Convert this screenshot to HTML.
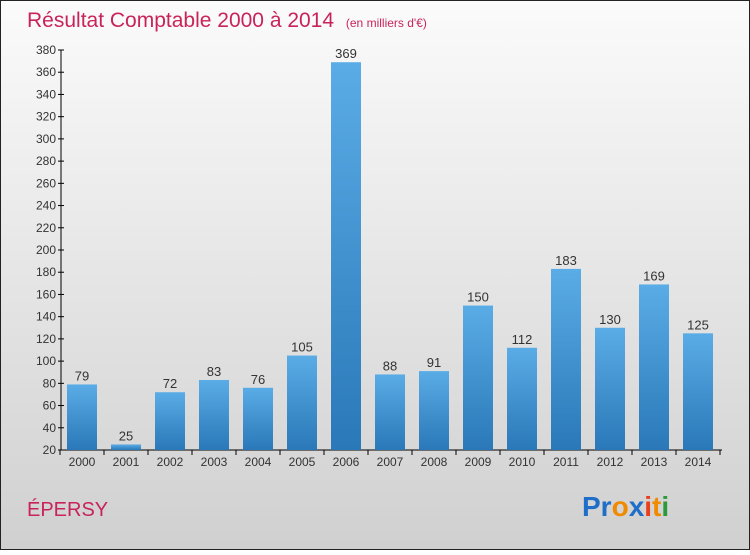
<!DOCTYPE html>
<html><head><meta charset="utf-8"><style>
body{margin:0;width:750px;height:550px;overflow:hidden;font-family:"Liberation Sans",sans-serif}
</style></head><body>
<svg id="c" width="750" height="550" xmlns="http://www.w3.org/2000/svg">
<defs>
<linearGradient id="bg" x1="0" y1="0" x2="0" y2="1"><stop offset="0" stop-color="#fbfbfb"/><stop offset="1" stop-color="#d0d0d0"/></linearGradient>
<linearGradient id="bar" x1="0" y1="0" x2="0" y2="1"><stop offset="0" stop-color="#5aace6"/><stop offset="1" stop-color="#2a78b8"/></linearGradient>
</defs>
<rect x="0.5" y="0.5" width="749" height="549" fill="url(#bg)" stroke="#222"/>
<text x="27" y="27" font-size="21" fill="#c8245a">Résultat Comptable 2000 à 2014 <tspan font-size="12" dx="6">(en milliers d'€)</tspan></text>
<text x="27" y="516" font-size="20" fill="#c8245a">ÉPERSY</text>
<g font-size="28" font-weight="bold">
<text x="582" y="516"><tspan fill="#1f6fc8">Pr</tspan><tspan fill="#f08a00">o</tspan><tspan fill="#1f6fc8">x</tspan><tspan fill="#e8401a">i</tspan><tspan fill="#f08a00">t</tspan><tspan fill="#2a9a3a">i</tspan></text>
</g>
<g id="axes"></g><g id="bars"></g>
</svg>
<script>
const years=["2000","2001","2002","2003","2004","2005","2006","2007","2008","2009","2010","2011","2012","2013","2014"];
const values=[79,25,72,83,76,105,369,88,91,150,112,183,130,169,125];
const ticks=[20,40,60,80,100,120,140,160,180,200,220,240,260,280,300,320,340,360,380];
const NS="http://www.w3.org/2000/svg";
const y=v=>450-(v-20)*400/360;
const x=i=>82+i*44;
function mk(t,a,p){const e=document.createElementNS(NS,t);for(const k in a)e.setAttribute(k,a[k]);p.appendChild(e);return e;}
const ax=document.getElementById('axes'),bg=document.getElementById('bars');
const yl=mk('line',{x1:61,x2:61,y1:50,y2:450,stroke:'#000'},ax);


const xl=mk('line',{x1:61,x2:722,y1:450,y2:450,stroke:'#000'},ax);


ticks.forEach(t=>{
 const yy=y(t);
 mk('line',{x1:58,x2:64,y1:yy,y2:yy,stroke:'#000'},ax);
 const tx=mk('text',{x:56,y:yy+4,'text-anchor':'end','font-size':12,fill:'#333'},ax);
 tx.textContent=t;
 
 
});
years.forEach((yr,i)=>{
 const cx=x(i),v=values[i];
 const r=mk('rect',{x:cx-15,y:y(v),width:30,height:450-y(v),fill:'url(#bar)'},bg);
 
 
 mk('line',{x1:cx+22,x2:cx+22,y1:450,y2:455,stroke:'#000'},ax);
 const l=mk('text',{x:cx,y:466,'text-anchor':'middle','font-size':12,fill:'#333'},ax);
 l.textContent=yr;
 
 
 const vl=mk('text',{x:cx,y:y(v)-4,'text-anchor':'middle','font-size':13,fill:'#333'},bg);
 vl.textContent=v;
 
 
});
mk('line',{x1:60,x2:60,y1:450,y2:455,stroke:'#000'},ax);
</script>
</body></html>
